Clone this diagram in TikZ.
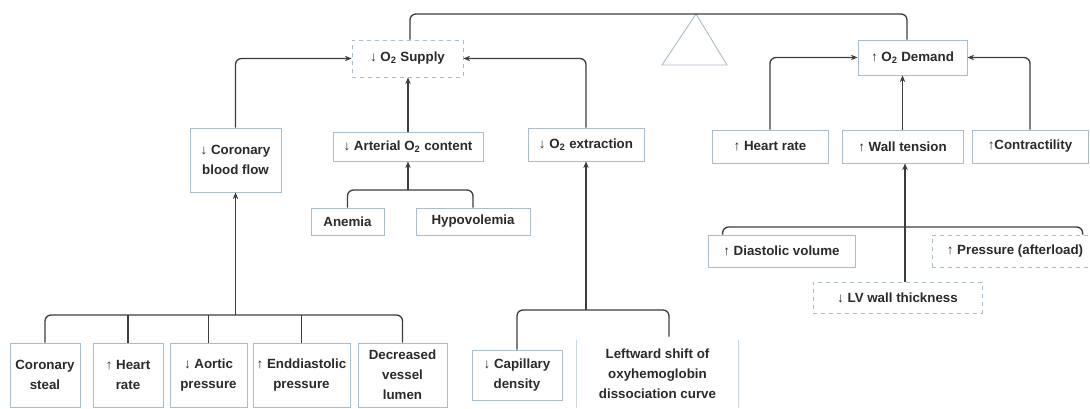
\documentclass[tikz,border=0pt]{standalone}
\usepackage{fontspec}
\setmainfont{Liberation Sans}
\usetikzlibrary{arrows.meta,calc}
\definecolor{boxc}{HTML}{A9BCCB}
\definecolor{linec}{HTML}{3C3C3C}
\definecolor{textc}{HTML}{2A2A2A}
\begin{document}
\begin{tikzpicture}[x=0.75pt,y=-0.75pt,
  box/.style={draw=boxc, line width=0.6pt, fill=white, inner sep=1pt, align=center,
    font=\fontsize{10}{15}\selectfont\bfseries, text=textc},
  dbox/.style={box, dashed},
  wh/.style 2 args={minimum width=#1*0.75pt, minimum height=#2*0.75pt},
  ln/.style={draw=linec, line width=1pt, rounded corners=4.5pt},
  arr/.style={ln, -{Stealth[length=5pt,width=4pt]}}]
\useasboundingbox (0,0) rectangle (1090,409);
\clip (0,0) rectangle (1090,409);

% triangle (fulcrum)
\draw[boxc, line width=0.7pt] (696,14) -- (662,65) -- (727,65) -- cycle;

% supply side
\node[dbox, wh={111}{37}] (sup) at (407.5,58.5) {↓ O\textsubscript{2} Supply};
\node[box, wh={91}{64}] (cbf) at (235.5,160) {↓ Coronary\\blood flow};
\node[box, wh={150}{29}] (art) at (408,146.5) {↓ Arterial O\textsubscript{2} content};
\node[box, wh={116}{33}] (ext) at (586,144.5) {↓ O\textsubscript{2} extraction};
\node[box, wh={73}{27}] (ane) at (347.5,221.5) {Anemia};
\node[box, wh={114}{27}] (hyp) at (473,221.5) {Hypovolemia};
\node[box, wh={70}{64}] (cs) at (45,375) {Coronary\\steal};
\node[box, wh={70}{64}] (hr2) at (128,375) {↑ Heart\\rate};
\node[box, wh={77}{64}] (ap) at (208.5,375) {↓ Aortic\\pressure};
\node[box, wh={97}{64}] (edp) at (301.5,375) {↑ Enddiastolic\\pressure};
\node[box, wh={89}{64}] (dvl) at (402.5,375) {Decreased\\vessel\\lumen};
\node[box, wh={90}{50}] (cap) at (517,375) {↓ Capillary\\density};
\node[box, draw=none, wh={161}{68}] (lsh) at (657.5,374) {Leftward shift of\\oxyhemoglobin\\dissociation curve};
\draw[boxc!60, line width=0.6pt] (lsh.north west) -- (lsh.south west) (lsh.north east) -- (lsh.south east);

% demand side
\node[box, wh={109}{35}] (dem) at (912.5,57.5) {↑ O\textsubscript{2} Demand};
\node[box, wh={116}{33}] (hr) at (770,146.5) {↑ Heart rate};
\node[box, wh={121}{33}] (wt) at (902.5,146.5) {↑ Wall tension};
\node[box, wh={116}{33}] (con) at (1030,146.5) {↑Contractility};
\node[box, wh={147}{32}] (dv) at (781.5,251) {↑ Diastolic volume};
\node[dbox, wh={166}{32}] (pa) at (1015,251) {↑ Pressure (afterload)};
\node[dbox, wh={169}{31}] (lv) at (897.5,297.5) {↓ LV wall thickness};

% balance beam
\coordinate (t1) at (410,14);
\coordinate (t2) at (907,14);
\draw[ln] (sup.north -| t1) -- (t1) -- (t2) -- (dem.north -| t2);

% supply connectors
\draw[arr] (cbf.north) |- (sup.west);
\draw[arr] (ext.north) |- (sup.east);
\draw[arr] (art.north) -- (art.north |- sup.south);

\coordinate (j2) at (408,190);
\draw[arr] (j2) -- (art.south);
\draw[ln] (ane.north) |- (j2) -| (hyp.north);

\coordinate (j3) at (235.5,315);
\draw[arr] (j3) -- (cbf.south);
\draw[ln] (cs.north) |- (j3) -| (dvl.north);
\draw[ln] (hr2.north) -- (hr2.north |- j3);
\draw[ln] (ap.north) -- (ap.north |- j3);
\draw[ln] (edp.north) -- (edp.north |- j3);

\coordinate (j4) at (586,310);
\draw[arr] (j4) -- (ext.south);
\draw[ln] (cap.north) |- (j4) -| ($(lsh.north)+(11.5,-3)$);

% demand connectors
\draw[arr] (hr.north) |- (dem.west);
\draw[arr] (con.north) |- (dem.east);
\draw[arr] (wt.north) -- (wt.north |- dem.south);

\coordinate (j5) at (905,227);
\draw[arr] (lv.north -| j5) -- (wt.south -| j5);
\draw[ln] ($(dv.north west)+(15,0)$) |- (j5) -| ($(pa.north west)+(151,0)$);
\end{tikzpicture}
\end{document}
